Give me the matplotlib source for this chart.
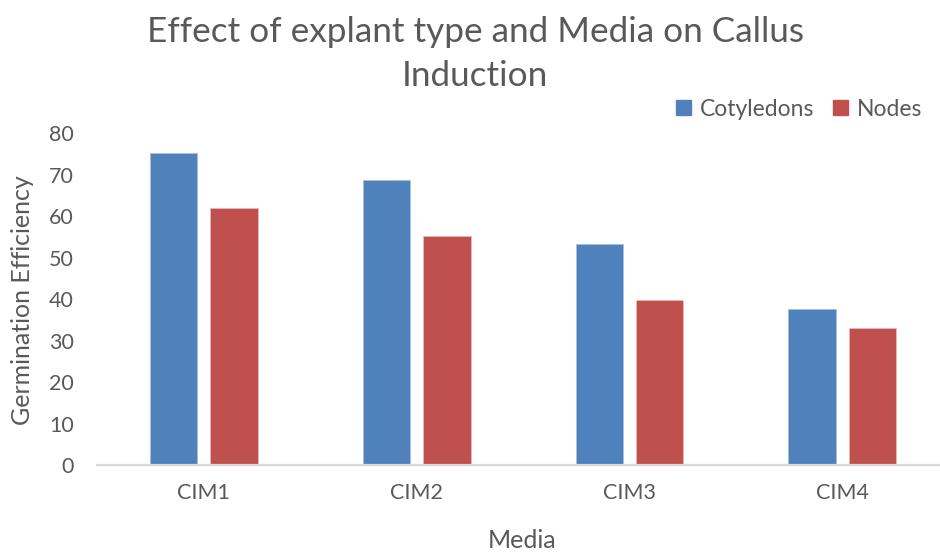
import numpy as np
import matplotlib
matplotlib.use('Agg')
import matplotlib.pyplot as plt
from matplotlib.patches import Patch

plt.rcParams['font.family'] = ['Lato', 'DejaVu Sans']

media = ['CIM1', 'CIM2', 'CIM3', 'CIM4']
cotyledons = [75.2, 68.8, 53.2, 37.7]
nodes = [62.1, 55.3, 39.7, 33.0]

blue = '#4F81BD'
red = '#C0504D'
grey = '#595959'

W, H = 940, 552
fig = plt.figure(figsize=(W / 100, H / 100), dpi=100)

# axes placed in pixel terms of the reference
left, right, bottom, top = 97.4, 948.7, 465.0, 133.3
ax = fig.add_axes([left / W, 1 - bottom / H, (right - left) / W, (bottom - top) / H])

x = np.arange(len(media))
width = 0.223
off = 0.142
ax.bar(x - off, cotyledons, width, color=blue, edgecolor='#A7BFDE', linewidth=0.6)
ax.bar(x + off, nodes, width, color=red, edgecolor='#E6B9B8', linewidth=0.6)

ax.set_xlim(-0.5, 3.5)
ax.set_ylim(0, 80)
ax.set_yticks(np.arange(0, 81, 10))
ax.set_xticks(x)
ax.set_xticklabels(media)

for s in ['top', 'right', 'left']:
    ax.spines[s].set_visible(False)
ax.spines['bottom'].set_color('#D9D9D9')
ax.spines['bottom'].set_linewidth(1.6)
ax.tick_params(axis='both', length=0, colors=grey, labelsize=15.5)
ax.tick_params(axis='y', pad=17)
ax.tick_params(axis='x', pad=13)

fig.text(23 / W, 1 - 300 / H, 'Germination Efficiency', color=grey, fontsize=18,
         rotation=90, ha='center', va='center')
fig.text(522 / W, 1 - 540 / H, 'Media', color=grey, fontsize=18, ha='center', va='center')

fig.text(475 / W, 1 - 54 / H, 'Effect of explant type and Media on Callus\nInduction',
         color=grey, fontsize=25.3, ha='center', va='center', linespacing=1.5)

handles = [Patch(color=blue, label='Cotyledons'), Patch(color=red, label='Nodes')]
fig.legend(handles=handles, loc='center left', bbox_to_anchor=(676 / W, 1 - 109 / H), ncol=2,
           frameon=False, fontsize=16.5, labelcolor=grey, handlelength=0.65, handleheight=0.65,
           handletextpad=0.4, columnspacing=0.8, borderpad=0, borderaxespad=0)

fig.savefig('out.png', dpi=100)
